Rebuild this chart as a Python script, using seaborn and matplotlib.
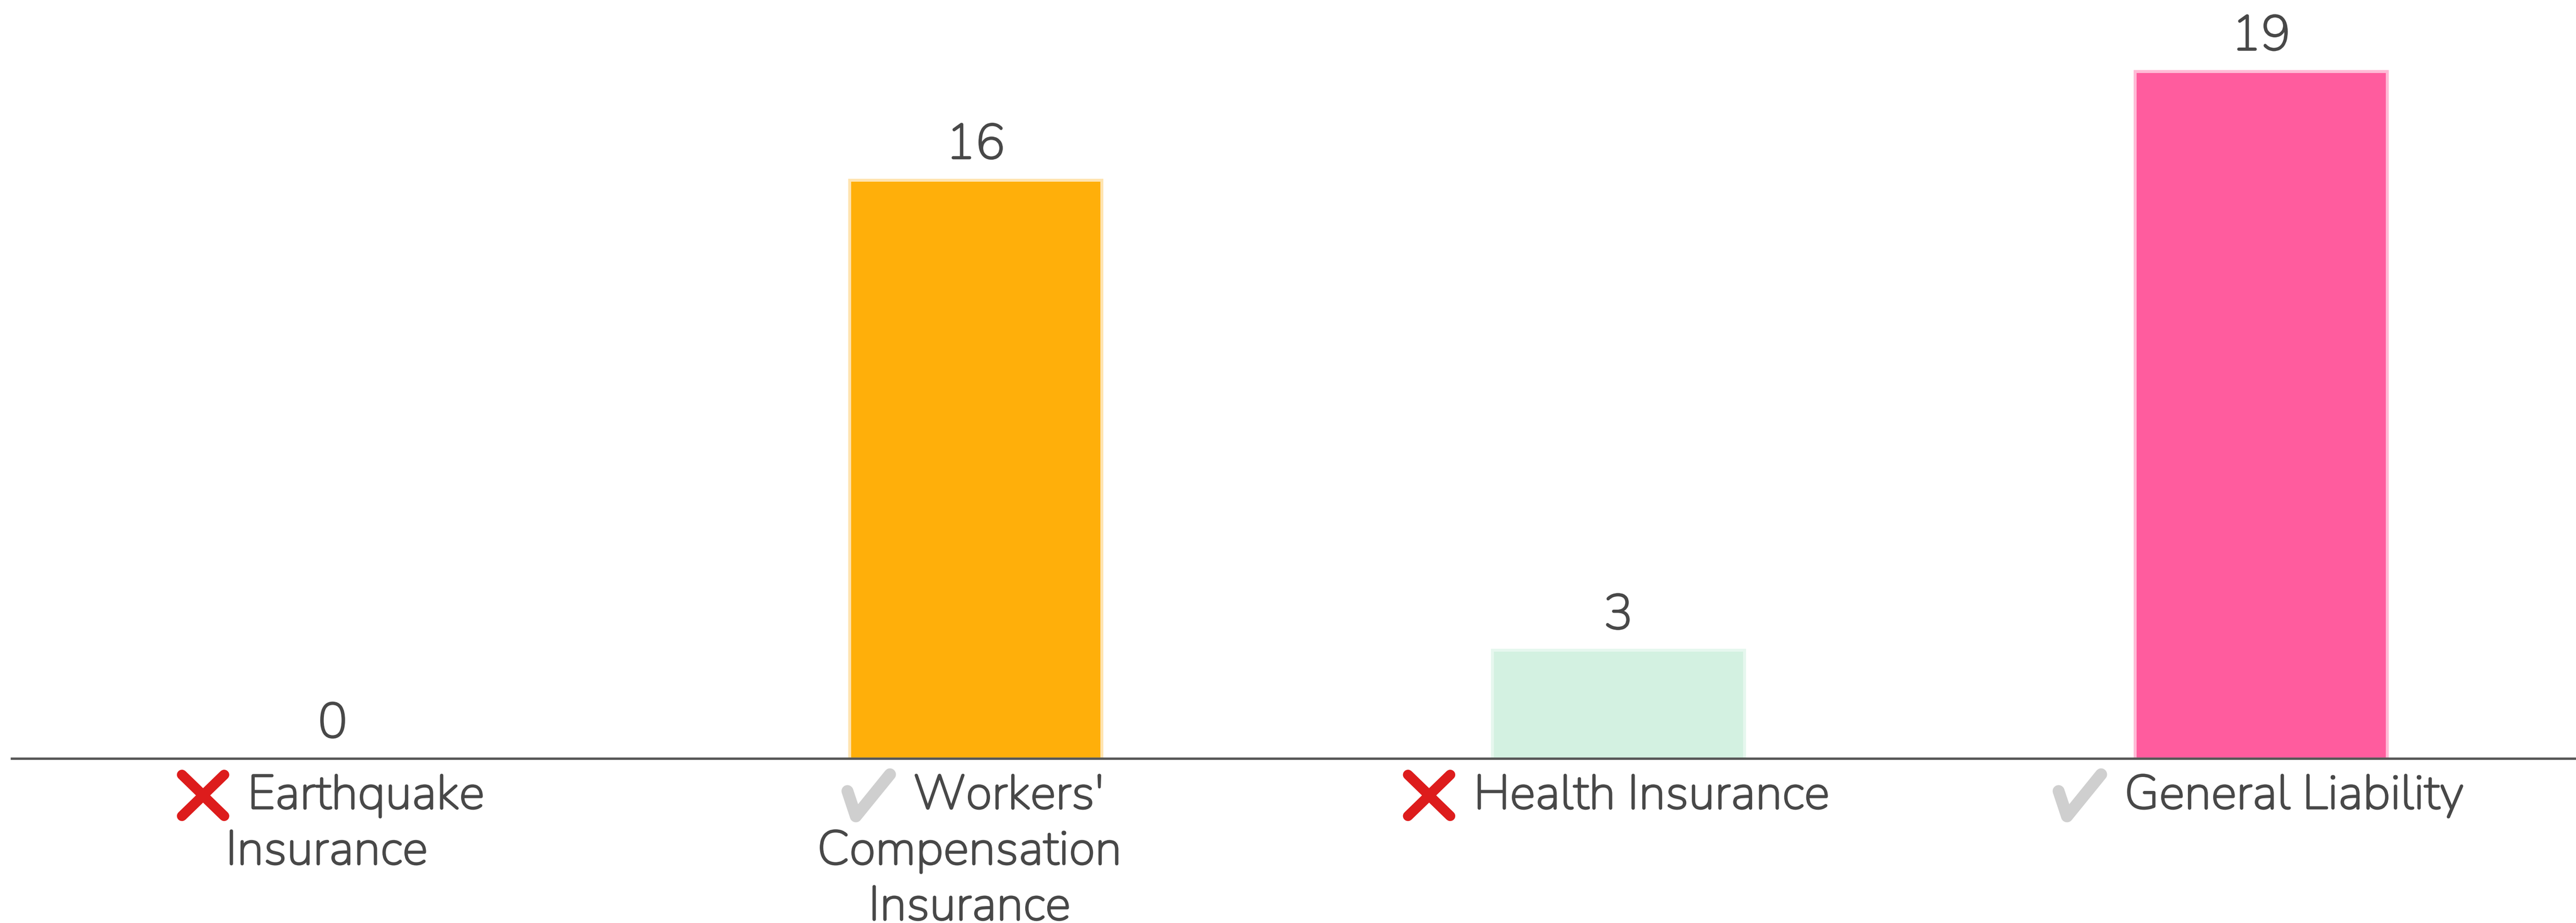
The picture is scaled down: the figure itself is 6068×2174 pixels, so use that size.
import warnings
warnings.filterwarnings("ignore")
import pandas as pd
import seaborn as sns, matplotlib.pyplot as plt
import matplotlib.patheffects as pe

# CHART DATA
categories = ["Earthquake Insurance", "Workers' Compensation Insurance", "Health Insurance", "General Liability"]
values = [0, 16, 3, 19]
label_lines = [["Earthquake", "Insurance"], ["Workers'", "Compensation", "Insurance"], ["Health Insurance"], ["General Liability"]]
marks = ["\u274c", "\u2714", "\u274c", "\u2714"]
mark_colors = ["#DD1C1C", "#CFCFCF", "#DD1C1C", "#CFCFCF"]
bar_colors = ["#5B8FF9", "#FFAF0A", "#D3F1E1", "#FF5C9E"]
edge_colors = ["none", "#FFE4B0", "#E6F7EE", "#FFBBD6"]

TEXT = "#484848"
LABEL_FONT = ["Nunito", "Open Sans", "DejaVu Sans"]
VALUE_FONT = ["Nunito", "Lato", "DejaVu Sans"]
MARK_FONT = ["Noto Emoji", "FreeSans", "DejaVu Sans"]
LABEL_SIZE = 82
MARK_SIZE = 90
# Nunito COMES IN LIGHT HERE, THICKEN TO REGULAR WEIGHT
BOLDER = [pe.withStroke(linewidth=2.2, foreground=TEXT)]

sns.set_theme(style="white")
plt.rcParams['font.family'] = LABEL_FONT

df = pd.DataFrame({"category": categories, "value": values})

W, H = 6068, 2174
fig = plt.figure(figsize=(W/100, H/100), dpi=100, facecolor="white")
# AXES RUN FROM JUST LEFT OF FIRST BAND TO THE RIGHT EDGE, BASELINE AT y=1787
ax = fig.add_axes([28/W, (H-1787)/H, 1-28/W, 1787/H])

sns.barplot(data=df, x="category", y="value", hue="category", palette=bar_colors,
            width=0.392, legend=False, saturation=1, ax=ax)

ax.set_xlim(-0.499, 3.49)
ax.set_ylim(0, 20.97)
ax.set_xlabel("")
ax.set_ylabel("")
ax.set_yticks([])
ax.set_xticks(range(4))
ax.set_xticklabels([])
ax.tick_params(axis="x", length=0)
for sp in ["top", "left", "right"]:
    ax.spines[sp].set_visible(False)
ax.spines["bottom"].set_color("#555555")
ax.spines["bottom"].set_linewidth(4)
ax.spines["bottom"].set_zorder(5)

# PALE HALO ROUND BARS AND VALUE LABELS
for i, cont in enumerate(ax.containers):
    for b in cont:
        if b.get_height() > 0:
            b.set_edgecolor(edge_colors[i])
            b.set_linewidth(5)
        else:
            b.set_linewidth(0)
    ax.bar_label(cont, fontsize=84, color=TEXT, padding=20, family=VALUE_FONT, path_effects=BOLDER)

# CATEGORY LABELS, MARK + FIRST LINE CENTRED TOGETHER
fig.canvas.draw()
r = fig.canvas.get_renderer()
trans = ax.get_xaxis_transform()
SHIFT = -14
GAP = 26
MARK_DROP = 10
for i, lines in enumerate(label_lines):
    for j, line in enumerate(lines):
        y = -(1905-1787) - j*131
        if j > 0:
            ax.annotate(line, xy=(i, 0), xycoords=trans, xytext=(SHIFT, y), textcoords="offset pixels",
                        ha="center", va="baseline", fontsize=LABEL_SIZE, color=TEXT, path_effects=BOLDER)
            continue
        t = ax.annotate(line, xy=(i, 0), xycoords=trans, xytext=(0, y), textcoords="offset pixels",
                        ha="left", va="baseline", fontsize=LABEL_SIZE, color=TEXT, path_effects=BOLDER)
        m = ax.annotate(marks[i], xy=(i, 0), xycoords=trans, xytext=(0, y-MARK_DROP), textcoords="offset pixels",
                        ha="left", va="baseline", fontsize=MARK_SIZE, color=mark_colors[i], family=MARK_FONT)
        tw = t.get_window_extent(r).width
        mw = m.get_window_extent(r).width
        left = SHIFT - (tw + mw + GAP)/2
        m.set_position((left, y-MARK_DROP))
        t.set_position((left + mw + GAP, y))

fig.savefig("out.png", dpi=100, facecolor="white")
